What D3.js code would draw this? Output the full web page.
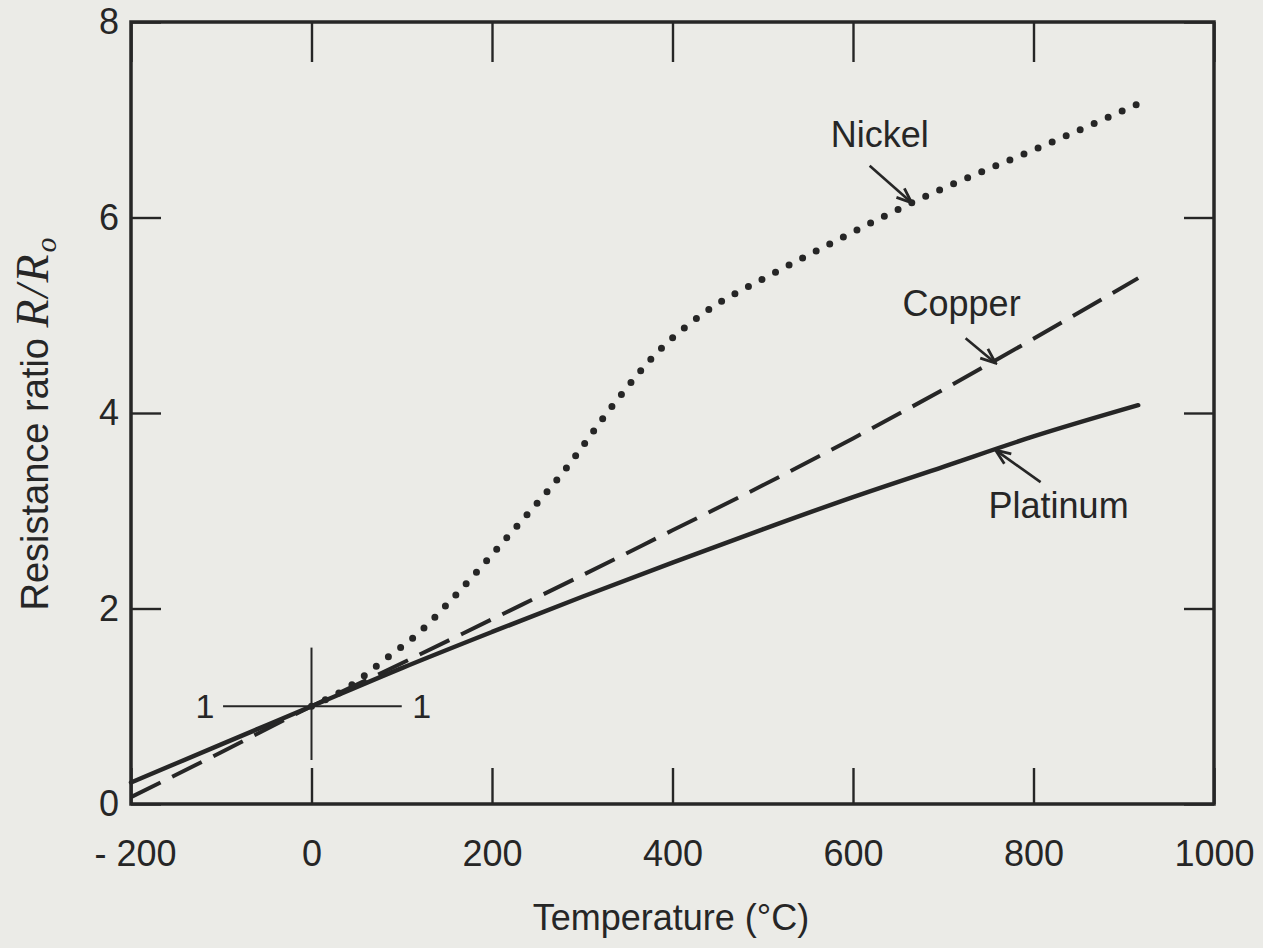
<!DOCTYPE html>
<html>
<head>
<meta charset="utf-8">
<script src="https://cdn.jsdelivr.net/npm/d3@7"></script>
<style>
  body { margin: 0; background: #ebebe7; }
  svg { display: block; font-family: "Liberation Sans", Arial, sans-serif; }
</style>
</head>
<body>
<svg></svg>
<script>
const size = {w: 1263, h: 948};
const box = {l: 131, r: 1214, t: 22, b: 804};

// values
const platinumT = [-200, -100, 0, 100, 200, 300, 400, 500, 600, 700, 800, 916];
const platinumR = [0.22, 0.61, 1.0, 1.39, 1.76, 2.12, 2.47, 2.81, 3.14, 3.45, 3.76, 4.08];

const copperT = [-200, -100, 0, 100, 200, 300, 400, 500, 600, 700, 800, 916];
const copperR = [0.07, 0.53, 1.0, 1.44, 1.89, 2.34, 2.80, 3.26, 3.74, 4.24, 4.76, 5.38];

const nickelT = [0, 40, 80, 120, 154, 218, 281, 334, 382, 439, 504, 568, 665, 825, 918];
const nickelR = [1.0, 1.19, 1.47, 1.76, 2.08, 2.74, 3.42, 4.08, 4.61, 5.05, 5.39, 5.70, 6.15, 6.79, 7.17];

const xTicks = [-200, 0, 200, 400, 600, 800, 1000];
const yTicks = [0, 2, 4, 6, 8];

// labels with arrow tips on the curves
const labelNames = ['Nickel', 'Copper', 'Platinum'];
const labelTipT = [665, 758, 758];
const labelTipR = [6.15, 4.51, 3.62];

const ink = '#262626';

const svg = d3.select('svg')
    .attr('width', size.w)
    .attr('height', size.h);

const x = d3.scaleLinear().domain([-200, 1000]).range([box.l, box.r]);
const y = d3.scaleLinear().domain([0, 8]).range([box.b, box.t]);

svg.append('defs').append('marker')
    .attr('id', 'arrow')
    .attr('markerUnits', 'userSpaceOnUse')
    .attr('viewBox', '-16 -8 18 16')
    .attr('refX', 0).attr('refY', 0)
    .attr('markerWidth', 18).attr('markerHeight', 16)
    .attr('orient', 'auto')
    .append('path')
    .attr('d', 'M-15,-6 L0,0 L-15,6')
    .attr('fill', 'none')
    .attr('stroke', ink)
    .attr('stroke-width', 2.8);

// axes with inward ticks
const bottomAxis = svg.append('g')
    .attr('transform', `translate(0, ${box.b})`)
    .call(d3.axisBottom(x).tickValues(xTicks).tickSizeInner(-36).tickSizeOuter(0).tickPadding(36)
        .tickFormat(d => d < 0 ? '- 200' : d));
bottomAxis.selectAll('text').filter(d => d < 0).attr('dx', 4);

svg.append('g')
    .attr('transform', `translate(0, ${box.t})`)
    .call(d3.axisTop(x).tickValues(xTicks).tickSizeInner(-40).tickSizeOuter(0).tickFormat(''));

svg.append('g')
    .attr('transform', `translate(${box.l}, 0)`)
    .call(d3.axisLeft(y).tickValues(yTicks).tickSizeInner(-30).tickSizeOuter(0).tickPadding(12));

svg.append('g')
    .attr('transform', `translate(${box.r}, 0)`)
    .call(d3.axisRight(y).tickValues(yTicks).tickSizeInner(-30).tickSizeOuter(0).tickFormat(''));

svg.selectAll('.domain').remove();
svg.selectAll('.tick line').attr('stroke', ink).attr('stroke-width', 2.4);
svg.selectAll('.tick text')
    .attr('fill', ink)
    .style('font-size', '36px');

svg.append('rect')
    .attr('x', box.l).attr('y', box.t)
    .attr('width', box.r - box.l).attr('height', box.b - box.t)
    .attr('fill', 'none')
    .attr('stroke', ink)
    .attr('stroke-width', 3.5);

// crosshair at (0, 1)
svg.append('line')
    .attr('x1', x(-98)).attr('x2', x(100))
    .attr('y1', y(1)).attr('y2', y(1))
    .attr('stroke', ink).attr('stroke-width', 2);
svg.append('line')
    .attr('x1', x(0)).attr('x2', x(0))
    .attr('y1', y(0.45)).attr('y2', y(1.6))
    .attr('stroke', ink).attr('stroke-width', 2);
svg.selectAll('.one')
    .data([-118, 122])
    .join('text')
    .attr('class', 'one')
    .attr('x', d => x(d))
    .attr('y', y(1) + 12)
    .attr('text-anchor', 'middle')
    .attr('fill', ink)
    .style('font-size', '34px')
    .text('1');

// curves
const line = d3.line()
    .x(d => x(d[0]))
    .y(d => y(d[1]))
    .curve(d3.curveMonotoneX);

svg.append('path')
    .datum(d3.zip(platinumT, platinumR))
    .attr('d', line)
    .attr('fill', 'none')
    .attr('stroke', ink)
    .attr('stroke-width', 4.5)
    .attr('stroke-linecap', 'round');

svg.append('path')
    .datum(d3.zip(copperT, copperR))
    .attr('d', line)
    .attr('fill', 'none')
    .attr('stroke', ink)
    .attr('stroke-width', 4)
    .attr('stroke-dasharray', '33,13');

svg.append('path')
    .datum(d3.zip(nickelT, nickelR))
    .attr('d', line)
    .attr('fill', 'none')
    .attr('stroke', ink)
    .attr('stroke-width', 7)
    .attr('stroke-linecap', 'round')
    .attr('stroke-dasharray', '0,15.3');

// callouts
const tailOffset = [[-42, -37], [-30, -25], [45, 32]];
const textOffset = [[-32, -56], [-34, -47], [63, 68]];

labelNames.forEach((name, i) => {
    const tx = x(labelTipT[i]), ty = y(labelTipR[i]);
    svg.append('line')
        .attr('x1', tx + tailOffset[i][0]).attr('y1', ty + tailOffset[i][1])
        .attr('x2', tx).attr('y2', ty)
        .attr('stroke', ink).attr('stroke-width', 2.6)
        .attr('marker-end', 'url(#arrow)');
    svg.append('text')
        .attr('x', tx + textOffset[i][0])
        .attr('y', ty + textOffset[i][1])
        .attr('text-anchor', 'middle')
        .attr('fill', ink)
        .style('font-size', '36px')
        .text(name);
});

// axis titles
svg.append('text')
    .attr('x', 671)
    .attr('y', 930)
    .attr('text-anchor', 'middle')
    .attr('fill', ink)
    .style('font-size', '36px')
    .text('Temperature (°C)');

const yLabel = svg.append('text')
    .attr('transform', 'translate(48, 424) rotate(-90)')
    .attr('text-anchor', 'middle')
    .attr('fill', ink)
    .style('font-size', '38px');
yLabel.append('tspan').text('Resistance ratio ');
yLabel.append('tspan')
    .style('font-family', '"Liberation Serif", "Times New Roman", serif')
    .style('font-style', 'italic')
    .style('font-size', '46px')
    .attr('letter-spacing', 2)
    .text('R/R');
yLabel.append('tspan')
    .style('font-family', '"Liberation Serif", "Times New Roman", serif')
    .style('font-style', 'italic')
    .style('font-size', '30px')
    .attr('dy', 8)
    .text('o');
</script>
</body>
</html>
